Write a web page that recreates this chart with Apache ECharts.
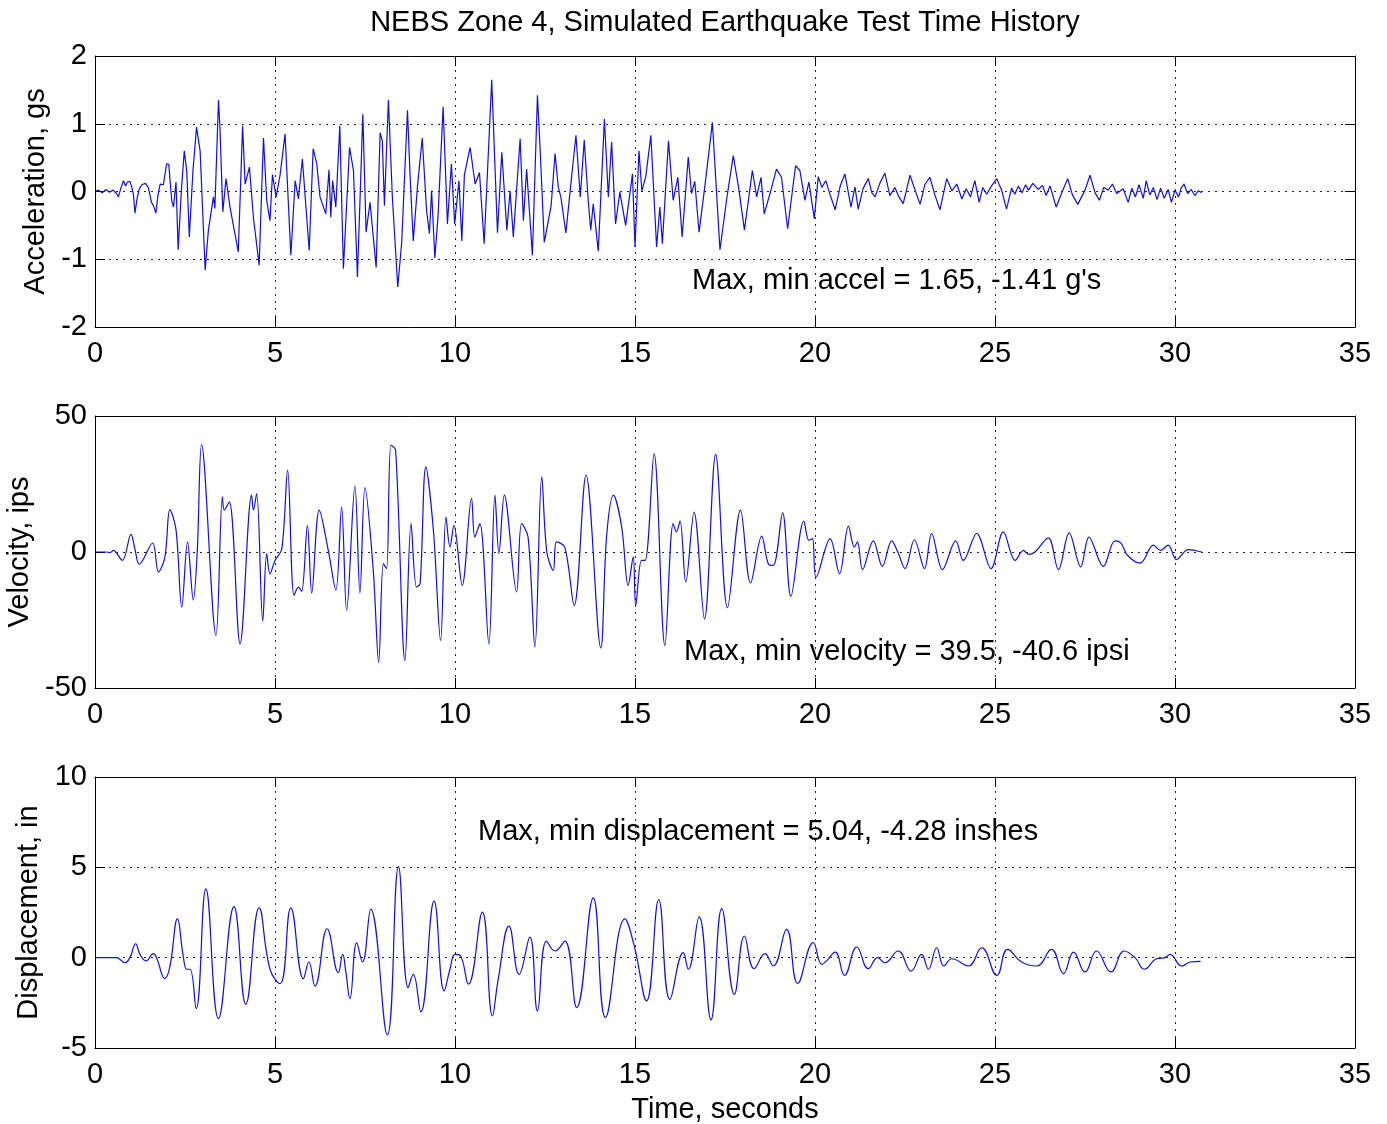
<!DOCTYPE html>
<html><head><meta charset="utf-8">
<script src="https://cdn.jsdelivr.net/npm/echarts@6/dist/echarts.min.js"></script>
<style>html,body{margin:0;padding:0;background:#fff}#c{width:1387px;height:1124px}</style>
</head><body><div id="c"></div>
<script>
// ---------- DATA ----------
const timeTicks = {min: 0, max: 35, interval: 5};
const accTicks = {min: -2, max: 2, interval: 1};
const velTicks = {min: -50, max: 50, interval: 50};
const dispTicks = {min: -5, max: 10, interval: 5};

const accTime = [0,0.1,0.2,0.3,0.4,0.5,0.6,0.65,0.72,0.79,0.85,0.9,0.97,1.03,1.07,1.11,1.17,1.23,1.3,1.34,1.4,1.48,1.57,1.63,1.69,1.75,1.81,1.9,1.99,2.05,2.13,2.18,2.25,2.31,2.4,2.48,2.55,2.62,2.72,2.82,2.92,3.06,3.15,3.29,3.33,3.43,3.47,3.55,3.64,3.75,3.98,4.10,4.17,4.29,4.40,4.56,4.68,4.77,4.86,4.93,5.03,5.14,5.28,5.44,5.56,5.65,5.76,5.95,6.06,6.16,6.25,6.41,6.50,6.55,6.60,6.69,6.80,6.90,7.07,7.18,7.29,7.44,7.53,7.64,7.81,7.92,7.98,8.04,8.15,8.26,8.41,8.52,8.68,8.75,8.84,8.96,9.09,9.21,9.29,9.35,9.44,9.53,9.67,9.79,9.90,9.99,10.11,10.19,10.26,10.42,10.56,10.68,10.81,11.02,11.18,11.30,11.44,11.53,11.62,11.81,11.90,11.99,12.15,12.29,12.36,12.48,12.67,12.78,12.87,12.94,13.08,13.22,13.36,13.48,13.59,13.70,13.77,13.84,13.98,14.15,14.26,14.35,14.46,14.58,14.74,14.93,15.00,15.11,15.19,15.30,15.44,15.60,15.69,15.76,15.93,16.06,16.19,16.31,16.48,16.57,16.66,16.78,16.95,17.15,17.36,17.55,17.73,17.88,18.04,18.26,18.38,18.50,18.59,18.75,18.93,19.07,19.24,19.46,19.58,19.72,19.83,19.98,20.09,20.19,20.30,20.42,20.56,20.70,20.83,21.00,21.11,21.20,21.34,21.48,21.58,21.67,21.80,21.94,22.08,22.22,22.33,22.45,22.64,22.78,22.92,23.05,23.19,23.33,23.47,23.66,23.80,23.94,24.08,24.20,24.32,24.44,24.56,24.66,24.77,24.90,25.05,25.19,25.32,25.46,25.55,25.65,25.75,25.85,25.93,26.05,26.20,26.32,26.42,26.53,26.70,26.90,27.02,27.15,27.30,27.50,27.64,27.78,27.90,28.02,28.15,28.26,28.38,28.56,28.7,28.8,28.9,29.0,29.12,29.2,29.3,29.4,29.5,29.6,29.7,29.81,29.9,30.0,30.1,30.17,30.25,30.35,30.45,30.55,30.65,30.74];
const accVal = [0,0.02,-0.02,0.03,-0.01,0.02,-0.03,-0.08,0.05,0.16,0.08,0.14,0.15,0.05,-0.06,-0.32,-0.1,0.04,0.1,0.09,0.12,0.06,-0.16,-0.22,-0.32,-0.05,0.11,0.1,0.41,0.4,-0.13,-0.23,0.14,-0.86,0.02,0.6,0.29,-0.67,0.3,0.95,0.6,-1.16,-0.57,-0.08,-0.25,1.35,0.95,-0.30,0.19,-0.23,-0.89,0.97,0.11,0.36,-0.38,-1.09,0.79,-0.13,-0.43,0.25,-0.08,0.24,0.85,-0.94,0.16,-0.11,0.48,-0.87,0.63,0.41,-0.08,-0.33,0.32,-0.38,0.16,-0.23,0.97,-1.14,0.65,0.31,-1.26,1.14,-0.6,-0.16,-1.12,0.87,0.75,-0.21,1.35,-0.08,-1.41,-0.75,1.2,0.26,-0.73,0.09,0.79,-0.28,-0.62,0.01,-0.98,-0.35,1.25,-0.48,0.41,-0.48,0.16,-0.73,0.24,0.65,0.11,0.28,-0.77,1.65,-0.61,0.58,-0.57,0.01,-0.67,0.78,-0.43,0.33,-0.94,1.42,0.68,-0.75,-0.21,0.56,0.06,-0.08,-0.61,0.12,0.83,-0.08,0.76,-0.13,-0.57,-0.18,-0.88,1.07,-0.08,0.73,-0.48,-0.01,-0.5,0.26,-0.82,0.60,0.01,0.22,0.83,-0.82,-0.23,-0.77,0.75,-0.13,0.21,-0.67,0.51,-0.03,0.15,-0.6,0.12,1.02,-0.86,-0.1,0.53,0.05,-0.57,0.31,-0.08,0.21,-0.33,-0.03,0.33,0.21,-0.55,0.38,0.31,-0.13,0.14,-0.40,0.22,0.06,0.16,-0.05,-0.27,0.08,0.26,-0.23,0.07,-0.26,0.05,0.19,-0.02,-0.08,0.12,0.27,-0.06,0.06,-0.08,-0.18,0.24,0.02,-0.19,0.1,0.21,-0.05,-0.27,0.19,0.01,0.11,-0.11,0.04,-0.08,0.16,-0.16,0.06,-0.04,0.08,0.19,0.01,-0.26,0.05,-0.04,0.08,-0.02,0.1,0.02,0.12,0.03,0.09,-0.06,0.08,-0.23,0.04,0.19,-0.05,-0.19,0.02,0.24,-0.02,-0.13,0.06,0.02,0.11,-0.03,0.04,-0.16,0.05,-0.08,0.1,-0.1,0.16,-0.05,0.06,-0.12,0.05,-0.1,0.03,-0.16,0.02,-0.08,0.05,0.11,-0.03,0.03,-0.06,0.01,-0.02,0];

const velTime = [0,0.3,0.42,0.51,0.76,1.0,1.11,1.23,1.6,1.76,1.94,2.08,2.25,2.41,2.57,2.73,2.84,2.96,3.36,3.54,3.59,3.73,4.03,4.35,4.40,4.49,4.66,4.77,4.86,5.0,5.19,5.35,5.53,5.65,5.74,5.90,6.02,6.23,6.48,6.69,6.85,6.99,7.22,7.36,7.50,7.73,7.88,8.01,8.10,8.22,8.35,8.61,8.78,8.93,9.03,9.19,9.40,9.60,9.75,9.86,9.97,10.2,10.46,10.55,10.69,10.94,11.11,11.22,11.37,11.71,11.85,12.03,12.22,12.41,12.55,12.73,12.82,13.05,13.31,13.64,14.05,14.21,14.40,14.63,14.81,14.95,15.02,15.18,15.28,15.53,15.83,16.06,16.15,16.25,16.41,16.64,16.93,17.24,17.57,17.93,18.21,18.52,18.70,18.84,19.10,19.33,19.69,19.83,19.93,20.03,20.42,20.68,20.93,21.09,21.18,21.32,21.62,21.87,22.13,22.30,22.5,22.76,23.04,23.24,23.54,23.91,24.12,24.49,24.89,25.23,25.56,25.79,25.93,26.11,26.48,26.76,27.06,27.38,27.61,28.01,28.33,28.50,28.68,29.03,29.40,29.60,29.81,30.04,30.37,30.74];
const velVal = [0,0,-0.2,0.6,-3.1,6.5,1,-4.5,3.3,-7.4,-2,15.6,8.2,-20.3,3.7,-17.6,0,39.5,-30.7,20.3,15.4,18.4,-33.8,20.9,15.4,21.5,-25.4,-0.6,-8.0,-3.1,1.2,30.1,-16.0,-12.9,-14.5,9.8,-15.1,15.4,0.6,-14.1,16.6,-21.5,24.2,-15.1,23.7,-6.8,-40.6,-4.3,-6.1,39.3,37.5,-39.9,10.4,-12.9,-11.7,31.3,8,-32.6,12.9,1.8,9.8,-12.3,19.7,5.5,10.4,-33.8,20.9,-0.6,20.9,-14.7,10.4,5.5,-35.0,27.6,0,-6.8,3.7,1.8,-19.7,28.3,-35.3,5.5,20.9,9.2,-12.3,-1.8,-19.7,-3.1,-3.1,36.2,-34.4,10.4,7.4,11.4,-11.1,14.7,-24.6,35.9,-20.5,15.4,-11.4,5.8,-4.3,-4.9,14.4,-16.3,11.4,4.3,4.9,-9.2,4.9,-8.0,9.5,1.8,3.7,-6.5,4.1,-5.3,4.1,0,-6.1,4.5,-6.1,6.8,-6.5,4.1,-3.1,6.8,-6.1,7.4,-3.1,0.6,-0.9,0,5.2,-6.5,7.0,-5.5,5.5,-5.3,4.1,3.3,-1.2,-4.1,2.5,0.6,2.5,-2.8,0.9,0];

const dispTime = [0,0.6,0.83,0.97,1.13,1.25,1.42,1.62,1.71,1.94,2.08,2.29,2.45,2.55,2.64,2.81,3.08,3.43,3.86,4.19,4.56,4.86,5.14,5.44,5.79,5.94,6.11,6.45,6.76,6.88,6.97,7.08,7.27,7.43,7.66,8.12,8.43,8.70,8.84,9.05,9.42,9.70,9.86,10.0,10.14,10.37,10.76,11.04,11.20,11.50,11.78,12.08,12.29,12.54,12.78,13.05,13.38,13.84,14.18,14.72,14.98,15.32,15.66,15.97,16.34,16.48,16.78,17.11,17.41,17.76,18.04,18.31,18.61,18.84,19.21,19.52,19.95,20.19,20.32,20.56,20.82,21.16,21.48,21.74,21.94,22.31,22.67,22.96,23.15,23.38,23.58,23.80,24.26,24.63,25.05,25.35,25.74,26.16,26.57,26.90,27.18,27.50,27.82,28.22,28.59,28.89,29.15,29.49,29.72,29.86,30.19,30.42,30.71];
const dispVal = [0,0,-0.28,0,0.77,0.18,-0.18,0.22,0,-1.16,-0.5,2.15,0.1,-0.64,-0.64,-2.82,3.81,-3.37,2.82,-2.58,2.76,-0.64,-1.44,2.76,-1.16,-0.24,-1.57,1.6,-0.83,0.18,-0.83,-2.27,0.83,-0.24,2.67,-4.28,5.04,-1.66,-0.92,-3.0,3.13,-1.84,-0.64,0.18,0.13,-1.47,2.52,-3.22,-1.2,1.75,-0.92,1.14,-2.95,0.92,0.37,0.92,-2.76,3.31,-3.31,2.15,0.64,-2.39,3.22,-2.31,0.28,-0.64,2.26,-3.44,2.71,-2.03,1.2,-0.61,0.22,-0.46,1.57,-1.42,0.83,-0.37,-0.18,0.31,-0.98,0.59,-0.61,0,-0.28,0.37,-0.74,0.18,-0.64,0.55,-0.46,-0.06,-0.46,0.55,-0.98,0.46,-0.24,-0.46,0.46,-0.88,0.31,-0.79,0.37,-0.79,0.37,0,-0.64,-0.06,0,0.18,-0.46,-0.24,-0.2];

const titleText = 'NEBS Zone 4, Simulated Earthquake Test Time History';
const yNames = ['Acceleration, gs', 'Velocity, ips', 'Displacement, in'];
const xName = 'Time, seconds';
const notes = ["Max, min accel = 1.65, -1.41 g's", 'Max, min velocity = 39.5, -40.6 ipsi', 'Max, min displacement = 5.04, -4.28 inshes'];

// ---------- CHART ----------
const FONT = 'Liberation Sans, Arial, Helvetica, sans-serif';
const FS = 29;
const LINE = '#1010d8';
const zip = (a, b) => a.map((t, i) => [t, b[i]]);

const grids = [
  {left: 95, top: 56, width: 1260, height: 271, outerBoundsMode: 'none', containLabel: false},
  {left: 95, top: 416, width: 1260, height: 272, outerBoundsMode: 'none', containLabel: false},
  {left: 95, top: 777, width: 1260, height: 271, outerBoundsMode: 'none', containLabel: false}
];
const yT = [accTicks, velTicks, dispTicks];
const yGaps = [43, 57, 48];
const axLine = {show: true, onZero: false, lineStyle: {color: '#000', width: 1}};
const tick = {show: true, inside: true, length: 10, lineStyle: {color: '#000'}};
const dots = {show: true, lineStyle: {color: '#222', type: [2, 5], width: 1}};
const lbl = {color: '#000', fontSize: FS, fontFamily: FONT};

const xAxis = [], yAxis = [], series = [];
grids.forEach((g, i) => {
  xAxis.push(Object.assign({gridIndex: i, type: 'value', position: 'bottom', axisLine: axLine, axisTick: tick,
    axisLabel: Object.assign({margin: 12}, lbl), splitLine: dots},
    timeTicks, i === 2 ? {name: xName, nameLocation: 'middle', nameGap: 47, nameTextStyle: lbl} : {}));
  xAxis.push(Object.assign({gridIndex: i, type: 'value', position: 'top', axisLine: axLine, axisTick: tick,
    axisLabel: {show: false}, splitLine: {show: false}}, timeTicks));
  yAxis.push(Object.assign({gridIndex: i, type: 'value', position: 'left', axisLine: axLine, axisTick: tick,
    axisLabel: Object.assign({margin: 8}, lbl), splitLine: dots,
    name: yNames[i], nameLocation: 'middle', nameRotate: 90, nameGap: yGaps[i], nameTextStyle: lbl}, yT[i]));
  yAxis.push(Object.assign({gridIndex: i, type: 'value', position: 'right', axisLine: axLine, axisTick: tick,
    axisLabel: {show: false}, splitLine: {show: false}}, yT[i]));
});
const dataSets = [zip(accTime, accVal), zip(velTime, velVal), zip(dispTime, dispVal)];
const smooth = [false, 0.35, 0.45];
dataSets.forEach((d, i) => {
  series.push({type: 'line', xAxisIndex: i * 2, yAxisIndex: i * 2, data: d, showSymbol: false,
    smooth: smooth[i], lineStyle: {color: LINE, width: 1.2}, animation: false, silent: true});
});

const textEl = (text, x, y, align) => ({type: 'text', x: x, y: y, z: 100,
  style: {text: text, fill: '#000', fontSize: FS, fontFamily: FONT, align: align, verticalAlign: 'middle'}});

const chart = echarts.init(document.getElementById('c'), null, {renderer: 'canvas'});
chart.setOption({
  backgroundColor: '#fff',
  animation: false,
  grid: grids,
  xAxis: xAxis,
  yAxis: yAxis,
  series: series,
  graphic: [
    textEl(titleText, 725, 23, 'center'),
    textEl(notes[0], 692, 281, 'left'),
    textEl(notes[1], 684, 652, 'left'),
    textEl(notes[2], 478, 832, 'left')
  ]
});
</script></body></html>
